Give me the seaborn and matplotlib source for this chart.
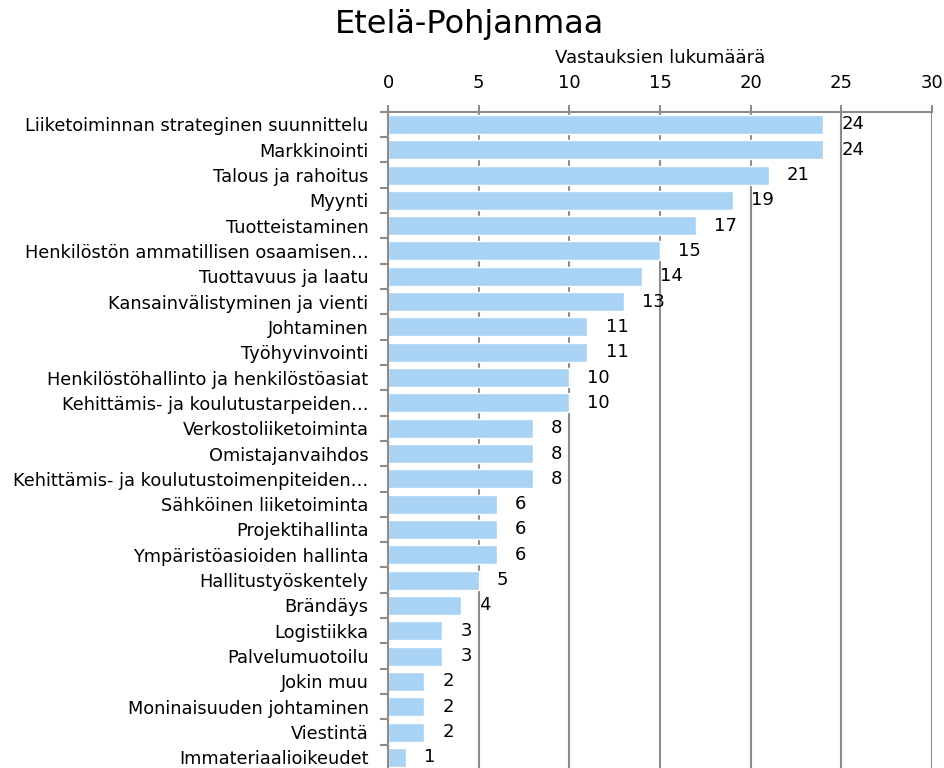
import pandas as pd
import numpy as np
import matplotlib.pyplot as plt
import seaborn as sns
from matplotlib.ticker import FixedLocator

categories = [
    "Liiketoiminnan strateginen suunnittelu",
    "Markkinointi",
    "Talous ja rahoitus",
    "Myynti",
    "Tuotteistaminen",
    "Henkilöstön ammatillisen osaamisen…",
    "Tuottavuus ja laatu",
    "Kansainvälistyminen ja vienti",
    "Johtaminen",
    "Työhyvinvointi",
    "Henkilöstöhallinto ja henkilöstöasiat",
    "Kehittämis- ja koulutustarpeiden…",
    "Verkostoliiketoiminta",
    "Omistajanvaihdos",
    "Kehittämis- ja koulutustoimenpiteiden…",
    "Sähköinen liiketoiminta",
    "Projektihallinta",
    "Ympäristöasioiden hallinta",
    "Hallitustyöskentely",
    "Brändäys",
    "Logistiikka",
    "Palvelumuotoilu",
    "Jokin muu",
    "Moninaisuuden johtaminen",
    "Viestintä",
    "Immateriaalioikeudet",
]
values = [24, 24, 21, 19, 17, 15, 14, 13, 11, 11, 10, 10, 8, 8, 8, 6, 6, 6, 5, 4, 3, 3, 2, 2, 2, 1]
x_ticks = [0, 5, 10, 15, 20, 25, 30]

df = pd.DataFrame({"kategoria": categories, "lukumaara": values})

sns.set_style("white")
plt.rcParams["font.family"] = ["DejaVu Sans"]
plt.rcParams["text.color"] = "black"
plt.rcParams["xtick.labelcolor"] = "black"
plt.rcParams["ytick.labelcolor"] = "black"
plt.rcParams["axes.labelcolor"] = "black"

fig = plt.figure(figsize=(9.45, 7.68), dpi=100)
ax = fig.add_axes([388 / 945, -0.0026, (932 - 388) / 945, 0.8545 + 0.0026])

grid_col = "#8c8c8c"
sns.barplot(data=df, x="lukumaara", y="kategoria", orient="h", color="#a8d3f5",
            saturation=1, width=0.75, ax=ax, zorder=2)

ax.set_xlim(0, 30)
ax.set_ylim(len(categories) - 0.5, -0.5)
ax.set_xticks(x_ticks)
ax.xaxis.tick_top()
ax.xaxis.set_label_position("top")
ax.grid(axis="x", color=grid_col, linewidth=1.5, zorder=0)
ax.set_axisbelow(True)
ax.tick_params(axis="x", top=True, length=5, width=1.5, color=grid_col, pad=9, labelsize=13)
ax.set_xlabel("Vastauksien lukumäärä", fontsize=13, labelpad=8)
ax.set_ylabel("")

ax.tick_params(axis="y", which="major", length=0, pad=14, labelsize=12.8)
ax.yaxis.set_minor_locator(FixedLocator(np.arange(-0.5, len(categories), 1)))
ax.tick_params(axis="y", which="minor", left=True, length=6, width=1.5, color=grid_col)

for s in ["right", "bottom"]:
    ax.spines[s].set_visible(False)
for s in ["top", "left"]:
    ax.spines[s].set_color(grid_col)
    ax.spines[s].set_linewidth(1.5)

ax.bar_label(ax.containers[0], labels=[str(v) for v in values], padding=13, fontsize=13)

fig.suptitle("Etelä-Pohjanmaa", fontsize=23, y=0.988, x=0.497)

fig.savefig("out.png", dpi=100)
